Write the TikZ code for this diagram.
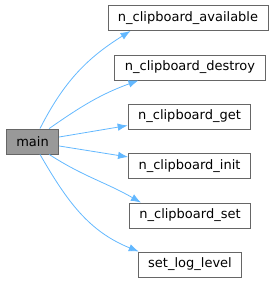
\documentclass[tikz,border=0pt]{standalone}
\usepackage{fontspec}
\usepackage{xcolor}
\usepackage{tikz}
\usetikzlibrary{arrows.meta,positioning}
\newfontfamily\graphfont{DejaVu Sans}
\definecolor{edgeblue}{HTML}{63B8FF}
\definecolor{boxgray}{HTML}{666666}
\definecolor{maingray}{HTML}{999999}

\begin{document}
\begin{tikzpicture}[
    x=1pt, y=1pt,
    fn/.style={draw=boxgray, line width=0.9pt, fill=white, minimum height=25pt, inner xsep=10pt, align=center, font=\graphfont\fontsize{13}{15}\selectfont},
    root/.style={fn, fill=maingray},
    arr/.style={-{Latex[length=10pt, width=7.5pt]}, line width=0.8pt, edgeblue}
]
\useasboundingbox (0,0) rectangle (277,283);
\node[root] (main) at (32.5,141.5) {main};
\node[fn] (avail) at (188,265) {n\_clipboard\_available};
\node[fn] (destroy) at (190,215.5) {n\_clipboard\_destroy};
\node[fn] (getFn) at (189.5,166.5) {n\_clipboard\_get};
\node[fn] (initFn) at (189.5,117) {n\_clipboard\_init};
\node[fn] (setFn) at (190,67.5) {n\_clipboard\_set};
\node[fn] (logLevel) at (190,18.5) {set\_log\_level};

\draw[arr] ([xshift=7.5pt]main.north) to[out=63, in=212] ([xshift=23pt]avail.south west);
\draw[arr] ([xshift=-10pt]main.north east) to[out=35, in=200] ([xshift=24pt]destroy.south west);
\draw[arr] ([yshift=4.5pt]main.east) -- ([yshift=-9pt]getFn.west);
\draw[arr] ([yshift=-4.5pt]main.east) -- ([yshift=9pt]initFn.west);
\draw[arr] ([xshift=-10pt]main.south east) to[out=-33, in=150] ([xshift=12pt]setFn.north west);
\draw[arr] ([xshift=7.5pt]main.south) to[out=-60, in=158] ([xshift=1pt]logLevel.north west);
\end{tikzpicture}
\end{document}
